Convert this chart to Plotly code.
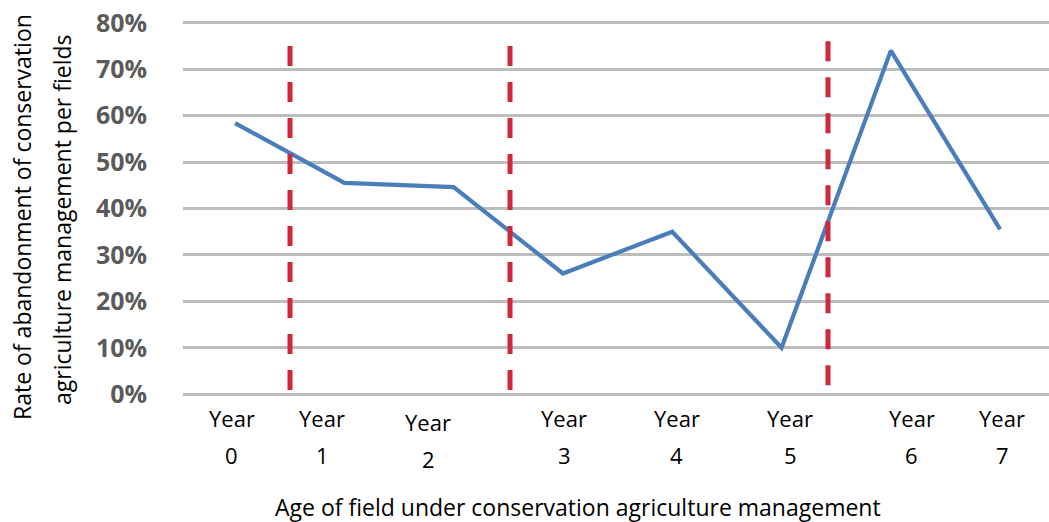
import plotly.graph_objects as go

# Rate of abandonment per field age (share of fields)
years = [0, 1, 2, 3, 4, 5, 6, 7]
abandon_rate = [0.584, 0.455, 0.446, 0.26, 0.35, 0.10, 0.74, 0.355]

# Hand-placed category labels along the bottom
year_label_x = [-0.03, 0.80, 1.77, 3.01, 4.04, 5.08, 6.19, 7.02]
year_label_num = ["0", "1", "2", "3", "4", "5", "6", "7"]
year_label_drop = [0, 0, 4, 0, 0, 0, 0, 0]

# Dashed separators between management phases
separator_x = [0.503, 2.516, 5.425]
separator_top = [0.75, 0.75, 0.76]

y_ticks = [0, 0.1, 0.2, 0.3, 0.4, 0.5, 0.6, 0.7, 0.8]
y_tick_text = ["0%", "10%", "20%", "30%", "40%", "50%", "60%", "70%", "80%"]

W, H = 1049, 522
# plot box padded slightly past 0% and 80% so both edge gridlines are drawn
Y_LO, Y_HI = -0.006, 0.806
ML, MR = 183, 0
PX_PER_UNIT = 46.4 / 0.1
MT = 23 - (Y_HI - 0.8) * PX_PER_UNIT
MB = H - 394 - (0 - Y_LO) * PX_PER_UNIT
plot_h = H - MT - MB
plot_w = W - ML - MR

TEXT_FONT = "Open Sans"

fig = go.Figure()
fig.add_trace(go.Scatter(
    x=years, y=abandon_rate, mode="lines",
    line=dict(color="#4a7ebb", width=4.2),
    showlegend=False, hoverinfo="skip",
))

shapes = []
for sx, st in zip(separator_x, separator_top):
    shapes.append(dict(
        type="line", xref="x", yref="y", x0=sx, x1=sx, y0=st, y1=0,
        line=dict(color="#d2263a", width=5, dash="20px,16px"),
        layer="above",
    ))


def py_to_paper(py):
    return (H - MB - py) / plot_h


def px_to_paper(px):
    return (px - ML) / plot_w


annotations = []
for lx, num, drop in zip(year_label_x, year_label_num, year_label_drop):
    annotations.append(dict(
        x=lx, xref="x", y=py_to_paper(418 + drop), yref="paper",
        text="Year", showarrow=False, xanchor="center", yanchor="middle",
        font=dict(family=TEXT_FONT, size=22, color="#000000"),
    ))
    annotations.append(dict(
        x=lx, xref="x", y=py_to_paper(455 + drop), yref="paper",
        text=num, showarrow=False, xanchor="center", yanchor="middle",
        font=dict(family=TEXT_FONT, size=22, color="#000000"),
    ))

annotations.append(dict(
    x=px_to_paper(578), xref="paper", y=py_to_paper(507), yref="paper",
    text="Age of field under conservation agriculture management",
    showarrow=False, xanchor="center", yanchor="middle", borderpad=0,
    font=dict(family=TEXT_FONT, size=23, color="#000000"),
))
annotations.append(dict(
    x=px_to_paper(22), xref="paper", y=py_to_paper(217), yref="paper",
    text="Rate of abandonment of conservation", textangle=-90,
    showarrow=False, xanchor="center", yanchor="middle", borderpad=0,
    font=dict(family=TEXT_FONT, size=23, color="#000000"),
))
annotations.append(dict(
    x=px_to_paper(62), xref="paper", y=py_to_paper(220), yref="paper",
    text="agriculture management per fields", textangle=-90,
    showarrow=False, xanchor="center", yanchor="middle", borderpad=0,
    font=dict(family=TEXT_FONT, size=23, color="#000000"),
))

fig.update_layout(
    width=W, height=H,
    margin=dict(l=ML, r=MR, t=MT, b=MB, pad=0),
    paper_bgcolor="white", plot_bgcolor="white",
    shapes=shapes, annotations=annotations,
    xaxis=dict(
        range=[-0.476, 7.447], showgrid=False, zeroline=False,
        showticklabels=False, showline=False, ticks="",
    ),
    yaxis=dict(
        range=[Y_LO, Y_HI], tickvals=y_ticks, ticktext=y_tick_text,
        showgrid=True, gridcolor="#bdbdbd", gridwidth=2.5,
        zeroline=False, showline=False, ticks="",
        ticklabelstandoff=35,
        tickfont=dict(family=TEXT_FONT, size=25, color="#5a5a5a", weight="bold"),
    ),
)

fig.write_html("out.html")
